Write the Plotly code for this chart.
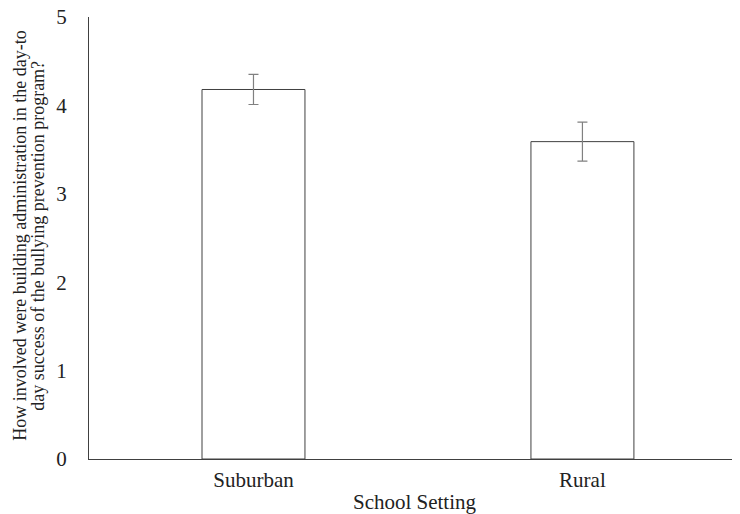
import plotly.graph_objects as go

categories = ["Suburban", "Rural"]
means = [4.18, 3.59]
errors = [0.17, 0.22]
y_ticks = [0, 1, 2, 3, 4, 5]
y_title_lines = [
    "How involved were building administration in the day-to",
    "day success of the bullying prevention program?",
]

fig = go.Figure()
fig.add_trace(go.Bar(
    x=categories, y=means,
    width=0.313,
    marker=dict(color="white", line=dict(color="#404040", width=1)),
    error_y=dict(type="data", array=errors, visible=True, color="#808080", thickness=1.2, width=5),
))

font = "Liberation Serif, Times New Roman, serif"
fig.update_layout(
    width=732, height=506,
    margin=dict(l=81, r=0, t=9, b=55),
    plot_bgcolor="white", paper_bgcolor="white",
    showlegend=False,
    font=dict(family=font, size=21, color="#222222"),
    xaxis=dict(
        range=[-0.5, 1.479], showline=True, linecolor="#404040", linewidth=1,
        showgrid=False, ticks="", ticklabelstandoff=2, automargin=False,
        tickfont=dict(size=21),
        title=dict(text="School Setting", font=dict(size=21), standoff=6),
    ),
    yaxis=dict(
        range=[0, 5], tickvals=y_ticks, showline=True, linecolor="#404040", linewidth=1,
        showgrid=False, zeroline=False, ticks="", ticklabelstandoff=17, automargin=False,
        tickfont=dict(size=21), ticklabeloverflow="allow",
    ),
)
for txt, xpx in zip(y_title_lines, [12, 30]):
    fig.add_annotation(
        text=txt, textangle=-90, showarrow=False,
        xref="paper", yref="paper", x=(xpx - 81) / 651, y=0.505,
        xanchor="center", yanchor="middle",
        font=dict(size=18, family=font, color="#222222"),
    )
fig.write_html("out.html")
